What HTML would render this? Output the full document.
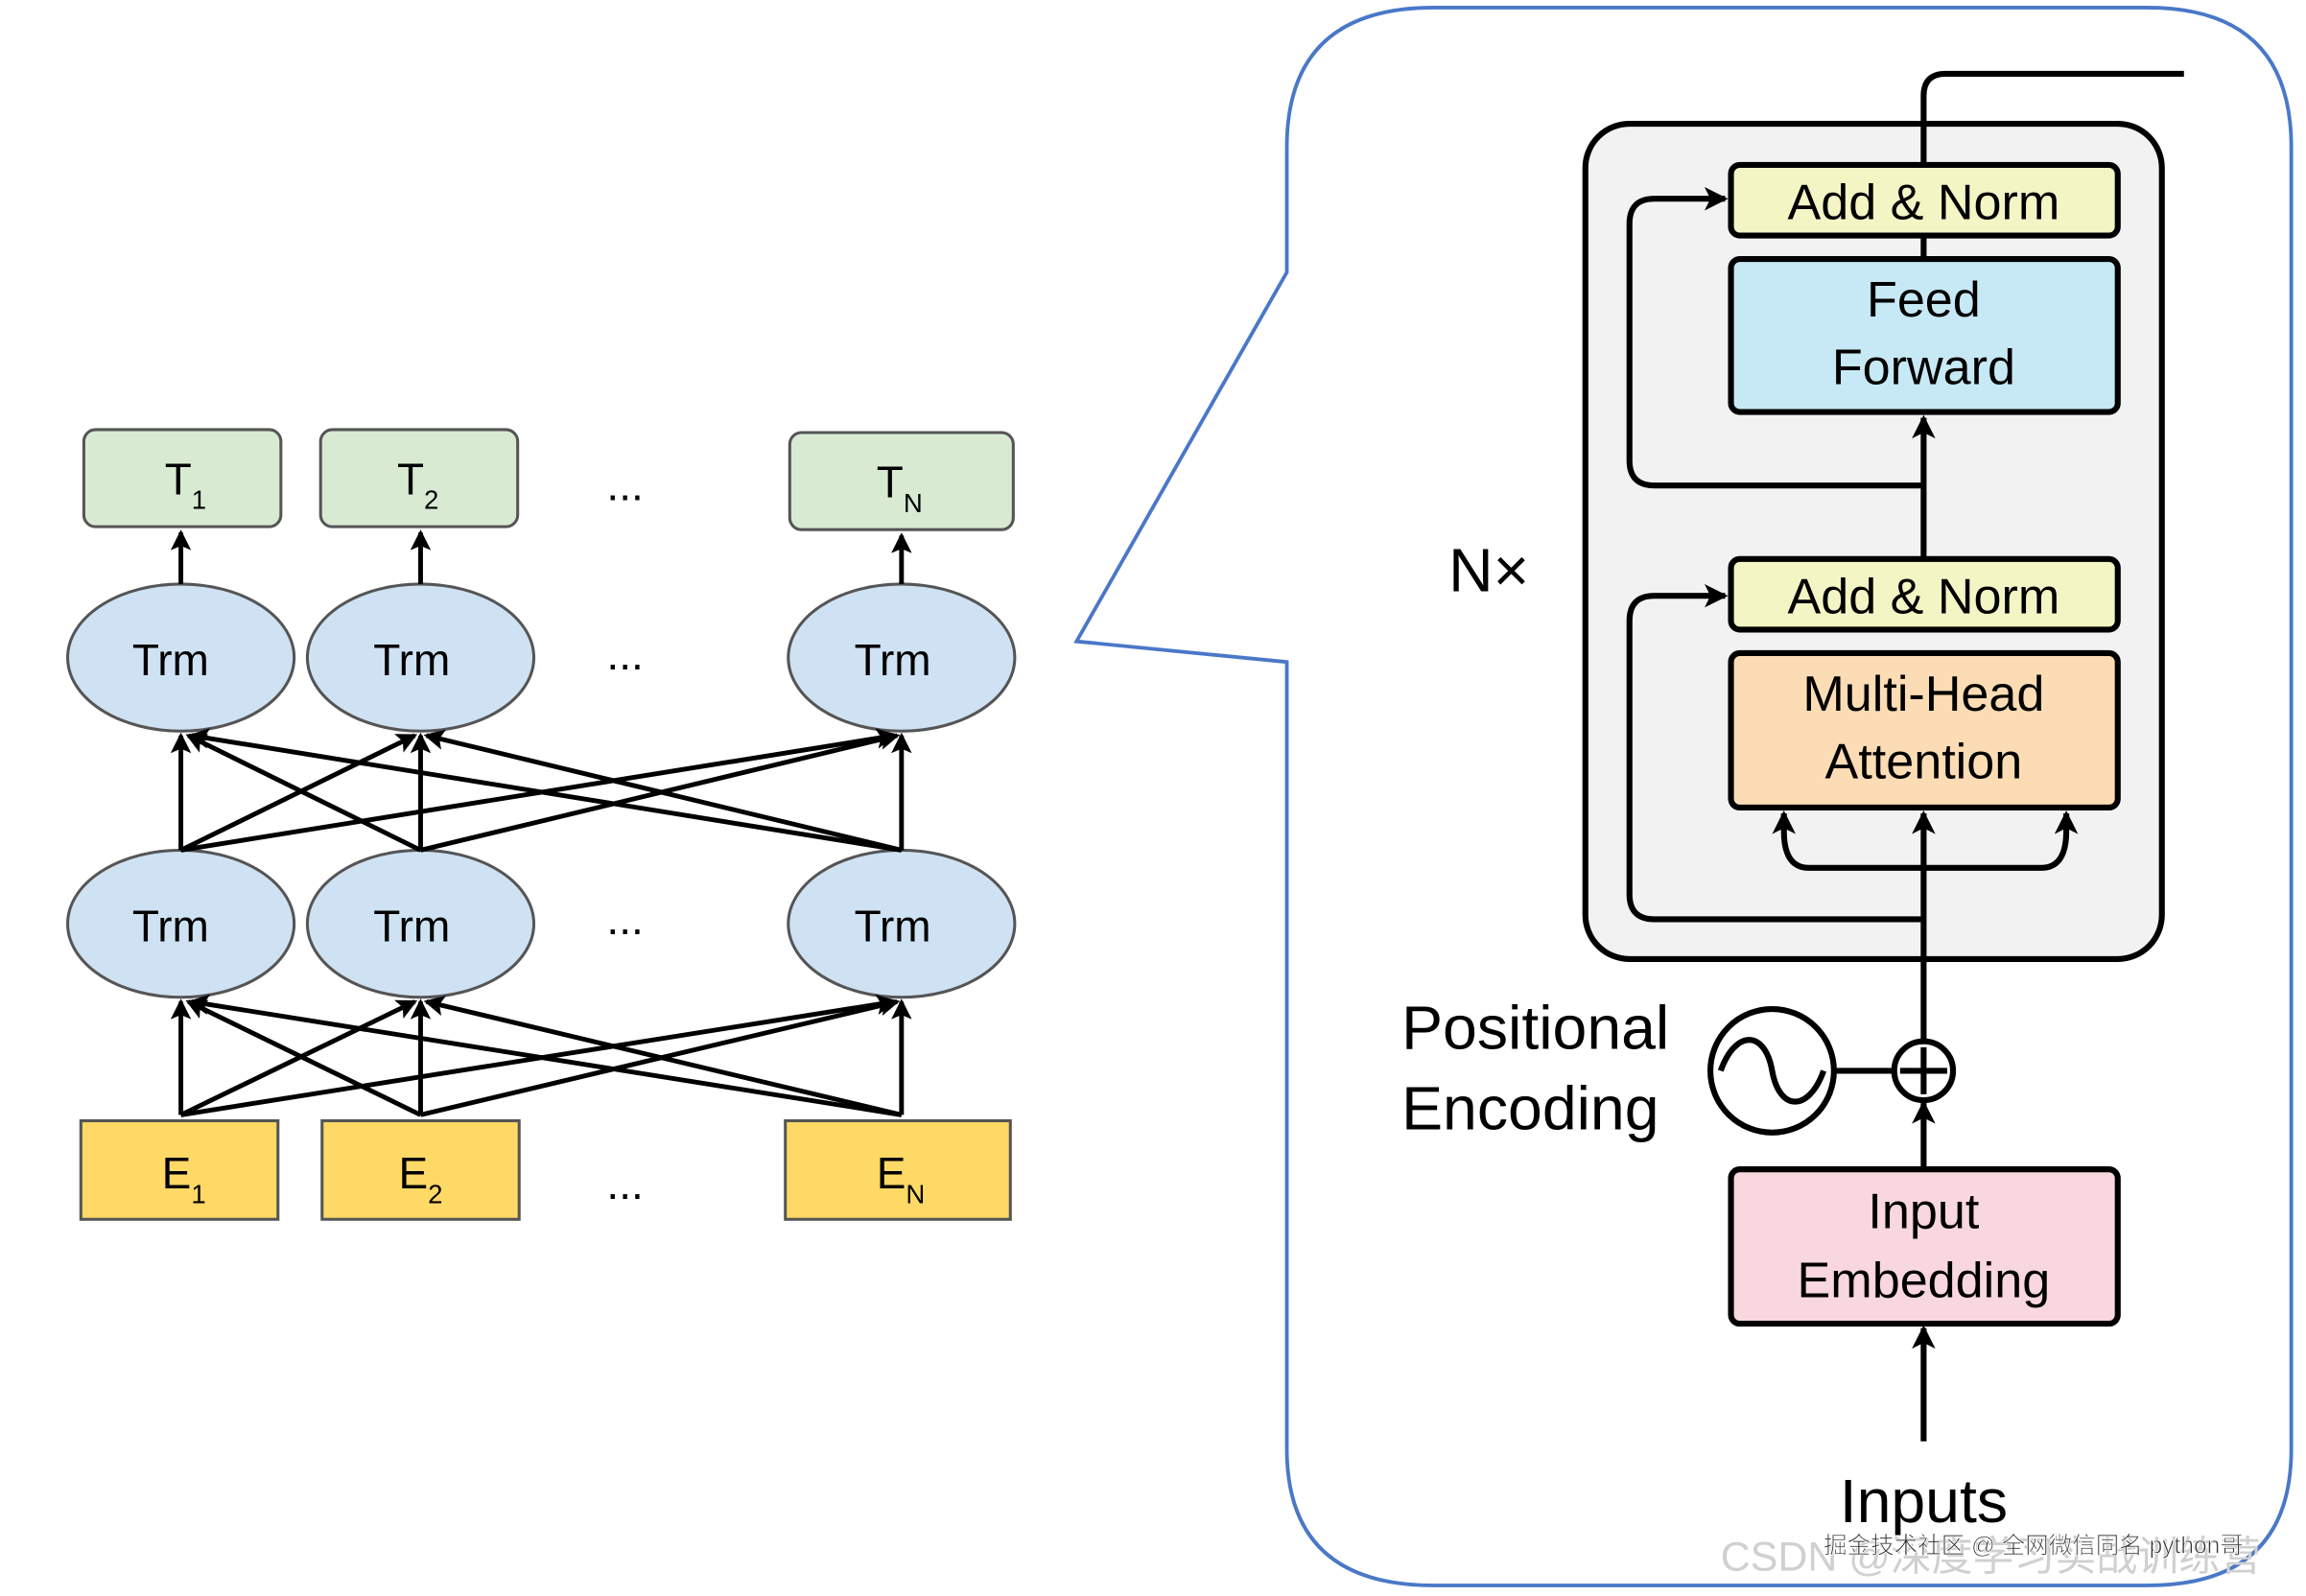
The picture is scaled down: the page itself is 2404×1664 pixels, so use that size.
<!DOCTYPE html>
<html><head><meta charset="utf-8"><style>html,body{margin:0;padding:0;background:#fff}svg{display:block}</style></head>
<body>
<svg width="2404" height="1664" viewBox="0 0 1568 1085" xmlns="http://www.w3.org/2000/svg" font-family="Liberation Sans, Noto Sans CJK SC, sans-serif">
<defs>
<marker id="a" markerWidth="14" markerHeight="14" refX="12" refY="7" orient="auto" markerUnits="userSpaceOnUse"><path d="M0,0 L14,7 L0,14 L3,7 z" fill="#000"/></marker>
<marker id="b" markerWidth="16" markerHeight="16" refX="14" refY="8" orient="auto" markerUnits="userSpaceOnUse"><path d="M0,0 L16,8 L0,16 L4,8 z" fill="#000"/></marker>
</defs>
<rect width="1568" height="1085" fill="#fff"/>
<g stroke="#555" stroke-width="2">
<rect x="57" y="292" width="134" height="66" rx="8" fill="#d9ead3"/>
<rect x="218" y="292" width="134" height="66" rx="8" fill="#d9ead3"/>
<rect x="537" y="294" width="152" height="66" rx="8" fill="#d9ead3"/>
<ellipse cx="123" cy="447" rx="77" ry="50" fill="#cfe2f3"/>
<ellipse cx="286" cy="447" rx="77" ry="50" fill="#cfe2f3"/>
<ellipse cx="613" cy="447" rx="77" ry="50" fill="#cfe2f3"/>
<ellipse cx="123" cy="628" rx="77" ry="50" fill="#cfe2f3"/>
<ellipse cx="286" cy="628" rx="77" ry="50" fill="#cfe2f3"/>
<ellipse cx="613" cy="628" rx="77" ry="50" fill="#cfe2f3"/>
<rect x="55" y="762" width="134" height="67" fill="#ffd966"/>
<rect x="219" y="762" width="134" height="67" fill="#ffd966"/>
<rect x="534" y="762" width="153" height="67" fill="#ffd966"/>
</g>
<g stroke="#000" stroke-width="3.2" marker-end="url(#a)" fill="none">
<line x1="123" y1="397" x2="123" y2="362"/>
<line x1="286" y1="397" x2="286" y2="362"/>
<line x1="613" y1="397" x2="613" y2="364"/>
<line x1="123" y1="578" x2="123" y2="500"/>
<line x1="123" y1="578" x2="282" y2="500"/>
<line x1="123" y1="578" x2="608" y2="500"/>
<line x1="286" y1="578" x2="128" y2="500"/>
<line x1="286" y1="578" x2="286" y2="500"/>
<line x1="286" y1="578" x2="610" y2="500"/>
<line x1="613" y1="578" x2="130" y2="500"/>
<line x1="613" y1="578" x2="290" y2="500"/>
<line x1="613" y1="578" x2="613" y2="500"/>
<line x1="123" y1="758" x2="123" y2="681"/>
<line x1="123" y1="758" x2="282" y2="681"/>
<line x1="123" y1="758" x2="608" y2="681"/>
<line x1="286" y1="758" x2="128" y2="681"/>
<line x1="286" y1="758" x2="286" y2="681"/>
<line x1="286" y1="758" x2="610" y2="681"/>
<line x1="613" y1="758" x2="130" y2="681"/>
<line x1="613" y1="758" x2="290" y2="681"/>
<line x1="613" y1="758" x2="613" y2="681"/>
</g>
<g font-size="30" fill="#000">
<text x="112" y="336">T<tspan font-size="18" dy="10">1</tspan></text>
<text x="270" y="336">T<tspan font-size="18" dy="10">2</tspan></text>
<text x="596" y="338">T<tspan font-size="18" dy="10">N</tspan></text>
<text x="110" y="808">E<tspan font-size="18" dy="10">1</tspan></text>
<text x="271" y="808">E<tspan font-size="18" dy="10">2</tspan></text>
<text x="596" y="808">E<tspan font-size="18" dy="10">N</tspan></text>
<g text-anchor="middle">
<text x="116" y="459">Trm</text><text x="280" y="459">Trm</text><text x="607" y="459">Trm</text>
<text x="116" y="640">Trm</text><text x="280" y="640">Trm</text><text x="607" y="640">Trm</text>
<text x="425" y="340">...</text><text x="425" y="455">...</text><text x="425" y="635">...</text><text x="425" y="815">...</text>
</g></g>
<path d="M875,450 L732,436 L875,185 L875,100 Q875,5 975,5 L1460,5 Q1558,5 1558,100 L1558,985 Q1558,1078 1460,1078 L975,1078 Q875,1078 875,985 Z" fill="none" stroke="#4a78c8" stroke-width="2.5"/>
<rect x="1078" y="84" width="392" height="568" rx="30" fill="#f2f2f2" stroke="#000" stroke-width="4"/>
<g stroke="#000" stroke-width="4">
<rect x="1177" y="112" width="263" height="48" rx="6" fill="#f3f5c5"/>
<rect x="1177" y="176" width="263" height="104" rx="6" fill="#c7e8f5"/>
<rect x="1177" y="380" width="263" height="48" rx="6" fill="#f3f5c5"/>
<rect x="1177" y="444" width="263" height="105" rx="6" fill="#fcdcb4"/>
<rect x="1177" y="795" width="263" height="105" rx="6" fill="#f8d7de"/>
</g>
<g stroke="#000" stroke-width="4" fill="none">
<line x1="1308" y1="980" x2="1308" y2="903" marker-end="url(#b)"/>
<line x1="1308" y1="795" x2="1308" y2="750" marker-end="url(#b)"/>
<line x1="1308" y1="708" x2="1308" y2="553" marker-end="url(#b)"/>
<path d="M1308,590 L1230,590 Q1213,590 1213,565 L1213,553" marker-end="url(#b)"/>
<path d="M1308,590 L1388,590 Q1405,590 1405,565 L1405,553" marker-end="url(#b)"/>
<line x1="1308" y1="380" x2="1308" y2="284" marker-end="url(#b)"/>
<line x1="1308" y1="176" x2="1308" y2="160"/>
<path d="M1308,112 L1308,65 Q1308,50 1323,50 L1485,50"/>
<path d="M1308,625 L1125,625 Q1108,625 1108,608 L1108,422 Q1108,405 1125,405 L1173,405" marker-end="url(#b)"/>
<path d="M1308,330 L1125,330 Q1108,330 1108,313 L1108,152 Q1108,135 1125,135 L1173,135" marker-end="url(#b)"/>
<circle cx="1308" cy="728" r="20" fill="#fff"/>
<line x1="1308" y1="712" x2="1308" y2="744"/><line x1="1292" y1="728" x2="1324" y2="728"/>
<circle cx="1205" cy="728" r="42" fill="#fff"/>
<path d="M1170,728 C1180,700 1200,700 1205,728 C1210,756 1230,756 1240,728"/>
<line x1="1247" y1="728" x2="1288" y2="728"/>
</g>
<g font-size="34" fill="#000" text-anchor="middle">
<text x="1308" y="149">Add &amp; Norm</text>
<text x="1308" y="215">Feed</text><text x="1308" y="261">Forward</text>
<text x="1308" y="417">Add &amp; Norm</text>
<text x="1308" y="483">Multi-Head</text><text x="1308" y="529">Attention</text>
<text x="1308" y="835">Input</text><text x="1308" y="882">Embedding</text>
</g>
<g font-size="42" fill="#000">
<text x="985" y="402">N×</text>
<text x="953" y="713">Positional</text>
<text x="953" y="768">Encoding</text>
<text x="1308" y="1035" text-anchor="middle">Inputs</text>
</g>
<text x="1170" y="1068" font-size="28" fill="#d0d0d0">CSDN @深度学习实战训练营</text>
<text x="1240" y="1056" font-size="16" fill="#333" stroke="#fff" stroke-width="0.5">掘金技术社区 @ 全网微信同名 python哥</text>
</svg>
</body></html>
